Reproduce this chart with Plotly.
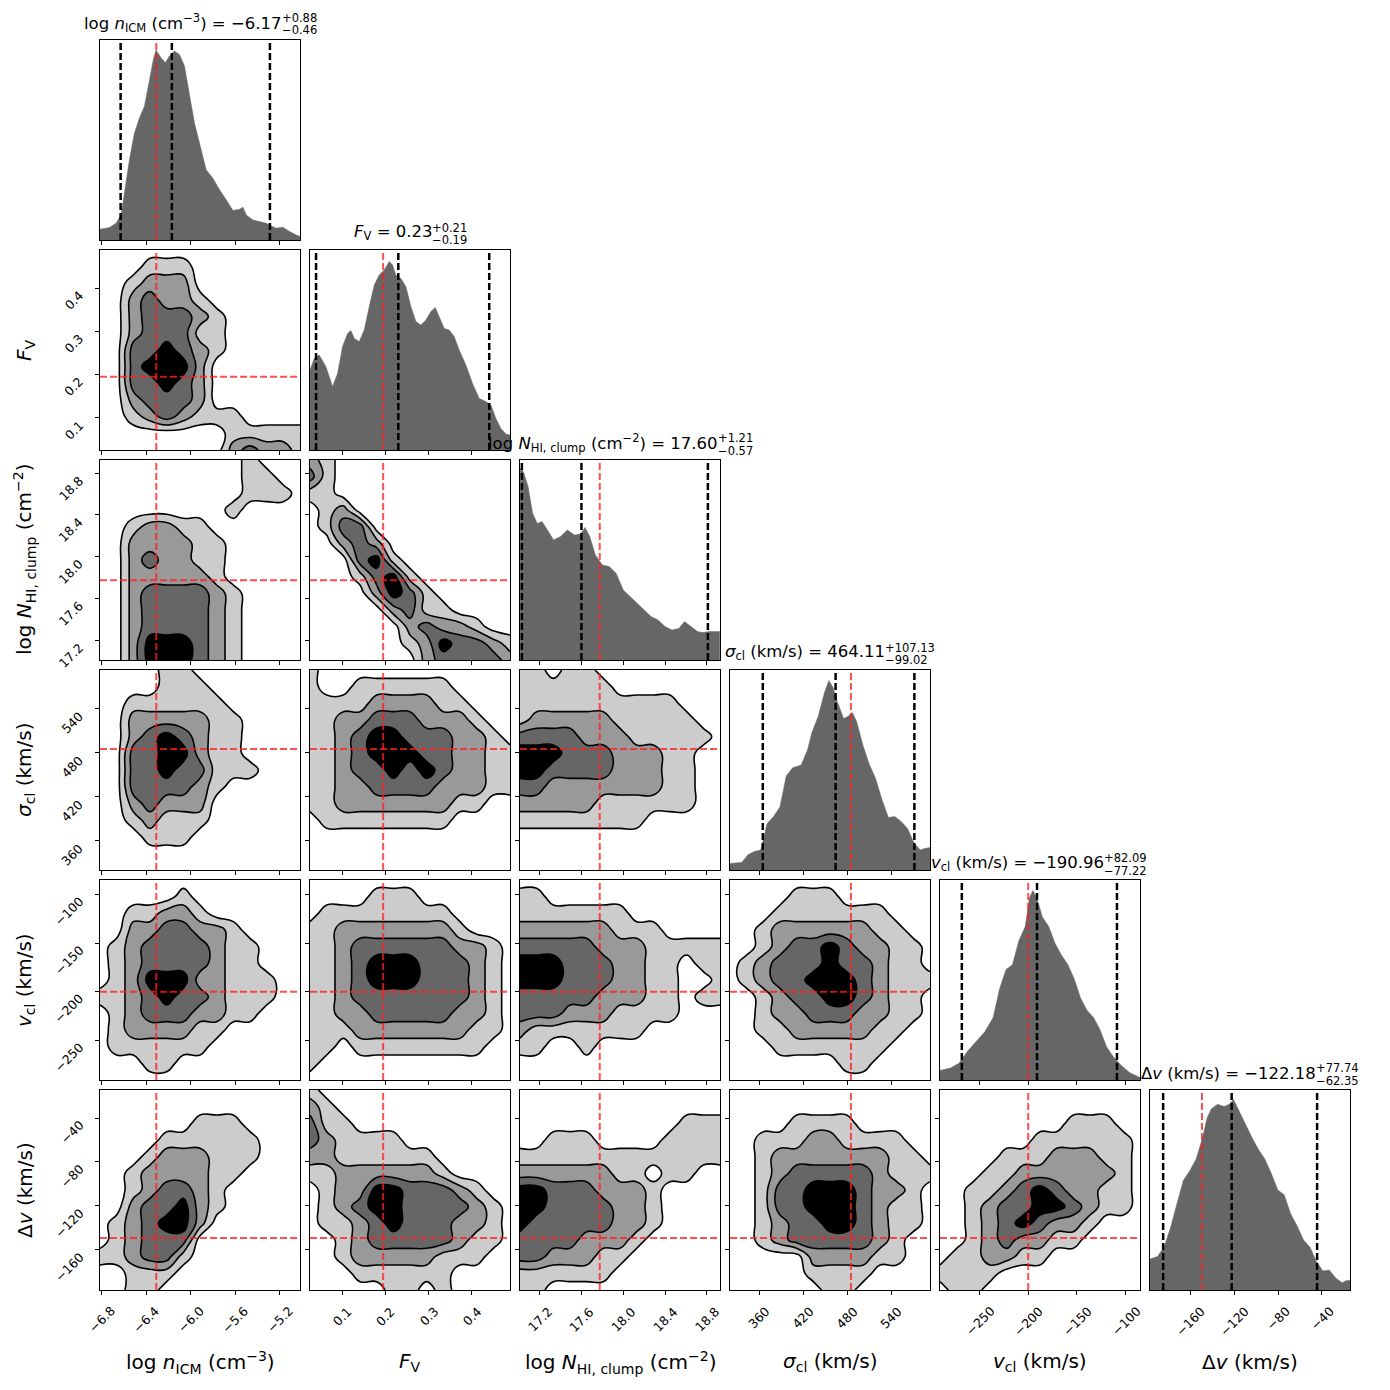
import numpy as np
import plotly.graph_objects as go
from plotly.subplots import make_subplots

# parameter order: log n_ICM, F_V, log N_HI,clump, sigma_cl, v_cl, delta v
LABELS = [
    "log <i>n</i><sub>ICM</sub> (cm<sup>−3</sup>)",
    "<i>F</i><sub>V</sub>",
    "log <i>N</i><sub>HI, clump</sub> (cm<sup>−2</sup>)",
    "<i>σ</i><sub>cl</sub> (km/s)",
    "<i>v</i><sub>cl</sub> (km/s)",
    "Δ<i>v</i> (km/s)",
]
RANGES = [[-6.815, -5.02], [0.026, 0.488], [17.012, 18.926],
          [320.5, 592.5], [-290.6, -85.2], [-196.5, -14.5]]
TICKS = [[-6.8, -6.4, -6.0, -5.6, -5.2], [0.1, 0.2, 0.3, 0.4],
         [17.2, 17.6, 18.0, 18.4, 18.8], [360, 420, 480, 540],
         [-250, -200, -150, -100], [-160, -120, -80, -40]]
TICK_TEXT = [["−6.8", "−6.4", "−6.0", "−5.6", "−5.2"], ["0.1", "0.2", "0.3", "0.4"],
             ["17.2", "17.6", "18.0", "18.4", "18.8"], ["360", "420", "480", "540"],
             ["−250", "−200", "−150", "−100"], ["−160", "−120", "−80", "−40"]]

TRUTHS = [-6.31, 0.195, 17.775, 485.0, -200.0, -149.2]
MEDIANS = [-6.17, 0.23, 17.60, 464.11, -190.96, -122.18]
ERR_HI = [0.88, 0.21, 1.21, 107.13, 82.09, 77.74]
ERR_LO = [0.46, 0.19, 0.57, 99.02, 77.22, 62.35]

# 1D marginals (height as fraction of panel height)
HIST_NICM_X = [-6.815, -6.731, -6.671, -6.626, -6.596, -6.551, -6.506, -6.461, -6.416,
               -6.372, -6.336, -6.312, -6.267, -6.228, -6.192, -6.147, -6.102, -6.057,
               -6.012, -5.967, -5.922, -5.862, -5.802, -5.742, -5.682, -5.622, -5.562,
               -5.532, -5.502, -5.442, -5.383, -5.323, -5.278, -5.233, -5.173, -5.113,
               -5.053, -5.02]
HIST_NICM_H = [0.054, 0.062, 0.084, 0.125, 0.234, 0.401, 0.535, 0.610, 0.669, 0.803,
               0.903, 0.950, 0.911, 0.886, 0.920, 0.945, 0.928, 0.870, 0.736, 0.585,
               0.485, 0.351, 0.309, 0.251, 0.201, 0.147, 0.154, 0.164, 0.125, 0.100,
               0.092, 0.084, 0.070, 0.059, 0.064, 0.042, 0.025, 0.017]

HIST_FV_X = [0.026, 0.0358, 0.0473, 0.0627, 0.0781, 0.0897, 0.1012, 0.1128, 0.1205,
             0.1282, 0.1397, 0.1513, 0.1628, 0.1744, 0.1859, 0.1975, 0.2090, 0.2167,
             0.2244, 0.2360, 0.2475, 0.2591, 0.2706, 0.2822, 0.2937, 0.3053, 0.3153,
             0.3245, 0.3361, 0.3476, 0.3592, 0.3707, 0.3861, 0.4015, 0.4169, 0.4323,
             0.4439, 0.4554, 0.4670, 0.4785, 0.488]
HIST_FV_H = [0.400, 0.458, 0.475, 0.417, 0.317, 0.383, 0.517, 0.583, 0.597, 0.558,
             0.542, 0.600, 0.717, 0.825, 0.875, 0.900, 0.942, 0.925, 0.875, 0.858,
             0.817, 0.717, 0.642, 0.625, 0.650, 0.692, 0.713, 0.667, 0.608, 0.600,
             0.567, 0.500, 0.425, 0.333, 0.258, 0.242, 0.225, 0.158, 0.108, 0.080,
             0.075]

HIST_NHI_X = [17.013, 17.044, 17.089, 17.133, 17.177, 17.222, 17.266, 17.333, 17.400,
              17.466, 17.533, 17.591, 17.635, 17.680, 17.733, 17.800, 17.866, 17.933,
              18.000, 18.066, 18.133, 18.200, 18.266, 18.333, 18.400, 18.466, 18.533,
              18.586, 18.644, 18.711, 18.764, 18.822, 18.924]
HIST_NHI_H = [0.958, 0.942, 0.867, 0.733, 0.683, 0.692, 0.658, 0.600, 0.617, 0.650,
              0.625, 0.630, 0.663, 0.617, 0.525, 0.475, 0.467, 0.433, 0.350, 0.317,
              0.283, 0.250, 0.217, 0.200, 0.167, 0.150, 0.158, 0.192, 0.167, 0.142,
              0.137, 0.142, 0.142]

HIST_SIG_X = [320.5, 336.3, 345.0, 353.7, 362.3, 371.0, 379.7, 388.4, 397.0, 405.7,
              417.3, 426.0, 431.7, 440.4, 449.1, 454.9, 460.7, 466.5, 475.1, 480.9,
              486.7, 492.5, 501.2, 509.8, 518.5, 527.2, 535.9, 544.6, 553.2, 561.9,
              570.6, 579.3, 585.0, 592.5]
HIST_SIG_H = [0.033, 0.038, 0.076, 0.093, 0.100, 0.232, 0.267, 0.315, 0.470, 0.511,
              0.525, 0.601, 0.685, 0.768, 0.888, 0.947, 0.912, 0.840, 0.757, 0.768,
              0.788, 0.745, 0.625, 0.530, 0.458, 0.351, 0.263, 0.267, 0.243, 0.208,
              0.136, 0.100, 0.107, 0.112]

HIST_V_X = [-290.6, -279.8, -271.1, -262.3, -253.5, -244.7, -236.0, -229.4, -222.8,
            -216.2, -209.7, -203.1, -198.7, -195.2, -191.2, -185.5, -178.9, -172.4,
            -165.8, -159.2, -152.6, -146.1, -139.5, -132.9, -126.3, -119.7, -113.2,
            -104.4, -95.6, -85.2]
HIST_V_H = [0.048, 0.060, 0.084, 0.144, 0.192, 0.240, 0.312, 0.456, 0.552, 0.576,
            0.695, 0.767, 0.911, 0.947, 0.911, 0.815, 0.767, 0.683, 0.624, 0.576,
            0.504, 0.408, 0.348, 0.312, 0.252, 0.168, 0.120, 0.072, 0.036, 0.012]

HIST_DV_X = [-196.5, -189.7, -183.8, -177.9, -172.1, -166.2, -160.4, -154.5, -148.6,
             -144.7, -140.8, -135.0, -129.1, -124.4, -120.5, -115.4, -109.6, -103.7,
             -97.8, -92.0, -86.1, -80.2, -74.4, -68.5, -62.7, -56.8, -50.9, -45.1,
             -39.2, -33.4, -27.5, -21.6, -17.7, -14.5]
HIST_DV_H = [0.155, 0.167, 0.214, 0.310, 0.429, 0.548, 0.595, 0.655, 0.762, 0.857,
             0.905, 0.929, 0.917, 0.929, 0.952, 0.893, 0.833, 0.762, 0.702, 0.655,
             0.583, 0.500, 0.476, 0.381, 0.321, 0.250, 0.214, 0.143, 0.095, 0.100,
             0.060, 0.036, 0.048, 0.048]

# 2D density levels (0 = outside, 4 = innermost), rows top -> bottom
DENS_FV_NICM = ["0000000000000", "0001110000000", "0012220000000", "0023221000000",
                "0023332100000", "0023331100000", "0033432100000", "0034442000000",
                "0033432000000", "0023332000000", "0012321110000", "0000000011111",
                "0000000023221"]
DENS_NHI_NICM = ["0000000001000", "0000000001100", "0000000001110", "0000000010000",
                 "0012211000000", "0022221100000", "0023221100000", "0022222100000",
                 "0023333210000", "0023333210000", "0023333210000", "0024443210000",
                 "0024443210000"]
DENS_NHI_FV = ["2100000000000", "3100000000000", "1100000000000", "0120000000000",
               "0133000000000", "0023200000000", "0003410000000", "0001341000000",
               "0000243100000", "0000023110000", "0000002322100", "0000001243321",
               "0000000233332"]
DENS_SIG_NICM = ["0000110000000", "0000111000000", "0011111100000", "0022222110000",
                 "0023432110000", "0033442110000", "0033433111000", "0033332100000",
                 "0023222000000", "0012111000000", "0001110000000", "0000000000000",
                 "0000000000000"]
DENS_SIG_FV = ["1000000000000", "1001111110000", "1111222211000", "1122333222100",
               "1123443332210", "1123444332211", "1123343432211", "1122333322211",
               "1122222221100", "0111111110000", "0000000000000", "0000000000000",
               "0000000000000"]
DENS_SIG_NHI = ["1101100000000", "1111110000000", "1111111111000", "1222221111100",
                "3333222111110", "4443332221100", "4433332221100", "3322222221100",
                "2222211111100", "1111111100000", "0000000000000", "0000000000000",
                "0000000000000"]
DENS_V_NICM = ["0000000000000", "0000010000000", "0011221000000", "0022332210000",
               "0123333211000", "0123333211000", "0124442211100", "1123433211100",
               "0123332211000", "0122221100000", "0111111000000", "0001100000000",
               "0000000000000"]
DENS_V_FV = ["0000000000000", "0000111000000", "0111111110000", "1122222221000",
             "1123333332210", "1123444333210", "1123444333210", "1123333333210",
             "1122333332210", "1112222222110", "1101111111100", "1000000000000",
             "0000000000000"]
DENS_V_NHI = ["0000000000000", "1100000000000", "1111111000000", "2222221110000",
              "3333322211111", "4443332211011", "4443332211001", "3333322211011",
              "3332221111000", "2111111100000", "1100100000000", "0000000000000",
              "0000000000000"]
DENS_V_SIG = ["0000000000000", "0000111000000", "0001111111000", "0012222221100",
              "0012334322110", "0123334332110", "0123344432111", "0012334432110",
              "0012233322110", "0011222221100", "0001111111000", "0000000110000",
              "0000000000000"]
DENS_DV_NICM = ["0000000000000", "0000000000000", "0000001110000", "0000111111000",
                "0001222111000", "0012222110000", "0012332100000", "0023342100000",
                "0123442000000", "0123330000000", "1123310000000", "0011100000000",
                "0011000000000"]
DENS_DV_FV = ["1000000000000", "2100000000000", "3110000000000", "3211110000000",
              "2211111100000", "1122222210000", "0122443332100", "0123443333210",
              "0112343332210", "0012333332110", "0012222211100", "0001111110000",
              "0000011010000"]
DENS_DV_NHI = ["0000000000000", "0000000000000", "0000000000111", "0011100001111",
               "1111111111111", "2222221101100", "4433322210000", "4433332210000",
               "4333332210000", "3333222100000", "3322211000000", "1111110000000",
               "1100000000000"]
DENS_DV_SIG = ["0000000000000", "0000000000000", "0000111100000", "0011122111100",
               "0012222222110", "0012333332111", "0013344432210", "0013344432110",
               "0012334432110", "0012333332100", "0000022221100", "0000011110000",
               "0000001100000"]
DENS_DV_V = ["0000000000000", "0000000000000", "0000000011100", "0000001111110",
             "0000111222110", "0001122222210", "0011234322110", "0012334432110",
             "0012343221000", "0012322110000", "0112211000000", "1111000000000",
             "0110000000000"]

HISTS = [(HIST_NICM_X, HIST_NICM_H), (HIST_FV_X, HIST_FV_H), (HIST_NHI_X, HIST_NHI_H),
         (HIST_SIG_X, HIST_SIG_H), (HIST_V_X, HIST_V_H), (HIST_DV_X, HIST_DV_H)]
DENS = {
    (1, 0): DENS_FV_NICM,
    (2, 0): DENS_NHI_NICM, (2, 1): DENS_NHI_FV,
    (3, 0): DENS_SIG_NICM, (3, 1): DENS_SIG_FV, (3, 2): DENS_SIG_NHI,
    (4, 0): DENS_V_NICM, (4, 1): DENS_V_FV, (4, 2): DENS_V_NHI, (4, 3): DENS_V_SIG,
    (5, 0): DENS_DV_NICM, (5, 1): DENS_DV_FV, (5, 2): DENS_DV_NHI, (5, 3): DENS_DV_SIG,
    (5, 4): DENS_DV_V,
}

N = 6
FONT = "DejaVu Sans"
RED = "rgba(255,30,30,0.78)"
DASH = "7px,3px"
STEP = [[0, "white"], [0.125, "white"], [0.125, "#cccccc"], [0.375, "#cccccc"],
        [0.375, "#999999"], [0.625, "#999999"], [0.625, "#666666"], [0.875, "#666666"],
        [0.875, "black"], [1, "black"]]

specs = [[{} if c <= r else None for c in range(N)] for r in range(N)]
fig = make_subplots(rows=N, cols=N, specs=specs,
                    horizontal_spacing=0.008, vertical_spacing=0.008)

for r in range(N):
    for c in range(r + 1):
        row, col = r + 1, c + 1
        if r == c:
            hx, hy = HISTS[c]
            fig.add_trace(go.Scatter(x=hx, y=hy, mode="lines", fill="tozeroy",
                                     fillcolor="#666666",
                                     line=dict(color="#666666", width=0.5),
                                     hoverinfo="skip"), row=row, col=col)
            qs = [MEDIANS[c] - ERR_LO[c], MEDIANS[c], MEDIANS[c] + ERR_HI[c]]
            for q in qs:
                fig.add_trace(go.Scatter(x=[q, q], y=[0, 1], mode="lines",
                                         line=dict(color="black", width=2.5, dash=DASH),
                                         hoverinfo="skip"), row=row, col=col)
            t = TRUTHS[c]
            fig.add_trace(go.Scatter(x=[t, t], y=[0, 1], mode="lines",
                                     line=dict(color=RED, width=2, dash=DASH),
                                     hoverinfo="skip"), row=row, col=col)
        else:
            grid = DENS[(r, c)]
            z = np.array([[int(ch) for ch in s] for s in grid[::-1]], dtype=float)
            xs = np.linspace(RANGES[c][0], RANGES[c][1], z.shape[1])
            ys = np.linspace(RANGES[r][0], RANGES[r][1], z.shape[0])
            fig.add_trace(go.Contour(x=xs, y=ys, z=z, zmin=0, zmax=4, colorscale=STEP,
                                     showscale=False,
                                     contours=dict(start=0.5, end=3.5, size=1, coloring="fill"),
                                     line=dict(color="black", width=1.6, smoothing=1.3),
                                     hoverinfo="skip"), row=row, col=col)
            tx, ty = TRUTHS[c], TRUTHS[r]
            fig.add_trace(go.Scatter(x=[tx, tx], y=RANGES[r], mode="lines",
                                     line=dict(color=RED, width=2, dash=DASH),
                                     hoverinfo="skip"), row=row, col=col)
            fig.add_trace(go.Scatter(x=RANGES[c], y=[ty, ty], mode="lines",
                                     line=dict(color=RED, width=2, dash=DASH),
                                     hoverinfo="skip"), row=row, col=col)

        axis_common = dict(showline=True, mirror=True, linecolor="black", linewidth=1,
                           showgrid=False, zeroline=False, ticks="outside", ticklen=4,
                           tickcolor="black", tickwidth=1, showticklabels=False)
        fig.update_xaxes(range=RANGES[c], tickvals=TICKS[c], row=row, col=col, **axis_common)
        if r == c:
            fig.update_yaxes(range=[0, 1], row=row, col=col, **{**axis_common, "ticks": ""})
        else:
            fig.update_yaxes(range=RANGES[r], tickvals=TICKS[r], row=row, col=col,
                             **axis_common)


# the page body adds an 8 px offset; plot area starts at screen pixel (100, 40)
def px_x(p):
    return (p - 100) / 1250


def px_y(p):
    return 1 - (p - 40) / 1250


TICK_FONT = dict(family=FONT, size=12.5, color="black")
annotations = []

# rotated tick labels, centred under the ticks like the reference
for c in range(N):
    xname = fig.get_subplot(N, c + 1).xaxis.plotly_name.replace("axis", "")
    for v, s in zip(TICKS[c], TICK_TEXT[c]):
        annotations.append(dict(x=v, xref=xname, y=px_y(1301), yref="paper", text=s,
                                textangle=-45, xanchor="center", yanchor="top",
                                showarrow=False, font=TICK_FONT))
for r in range(1, N):
    yname = fig.get_subplot(r + 1, 1).yaxis.plotly_name.replace("axis", "")
    for v, s in zip(TICKS[r], TICK_TEXT[r]):
        annotations.append(dict(x=px_x(89), xref="paper", y=v, yref=yname, text=s,
                                textangle=-45, xanchor="right", yanchor="top", yshift=3,
                                showarrow=False, font=TICK_FONT))

SPLIT_OFF = [81, 21, 97, 54, 63, 65]
for k in range(N):
    cx = 200 + 210 * k
    top = 40 + 210 * k
    split = cx + SPLIT_OFF[k]
    med = f"{MEDIANS[k]:.2f}".replace("-", "−")
    annotations.append(dict(x=px_x(split + 3), y=px_y(top - 17), xref="paper", yref="paper",
                            text=f"{LABELS[k]} = {med}", showarrow=False,
                            xanchor="right", yanchor="middle",
                            font=dict(family=FONT, size=16.5, color="black")))
    annotations.append(dict(x=px_x(split - 1), y=px_y(top - 22), xref="paper", yref="paper",
                            text=f"+{ERR_HI[k]:.2f}", showarrow=False,
                            xanchor="left", yanchor="middle",
                            font=dict(family=FONT, size=11.5, color="black")))
    annotations.append(dict(x=px_x(split - 1), y=px_y(top - 9.5), xref="paper", yref="paper",
                            text=f"−{ERR_LO[k]:.2f}", showarrow=False,
                            xanchor="left", yanchor="middle",
                            font=dict(family=FONT, size=11.5, color="black")))
    annotations.append(dict(x=px_x(cx), y=px_y(1362), xref="paper", yref="paper",
                            text=LABELS[k], showarrow=False,
                            xanchor="center", yanchor="middle",
                            font=dict(family=FONT, size=20, color="black")))
    if k > 0:
        annotations.append(dict(x=px_x(25), y=px_y(140 + 210 * k), xref="paper", yref="paper",
                                text=LABELS[k], showarrow=False, textangle=-90,
                                xanchor="center", yanchor="middle",
                                font=dict(family=FONT, size=20, color="black")))

fig.update_layout(width=1382, height=1382, showlegend=False,
                  margin=dict(l=92, r=40, t=32, b=100),
                  plot_bgcolor="white", paper_bgcolor="white",
                  font=dict(family=FONT, color="black"),
                  annotations=annotations)

fig.write_html("out.html")
